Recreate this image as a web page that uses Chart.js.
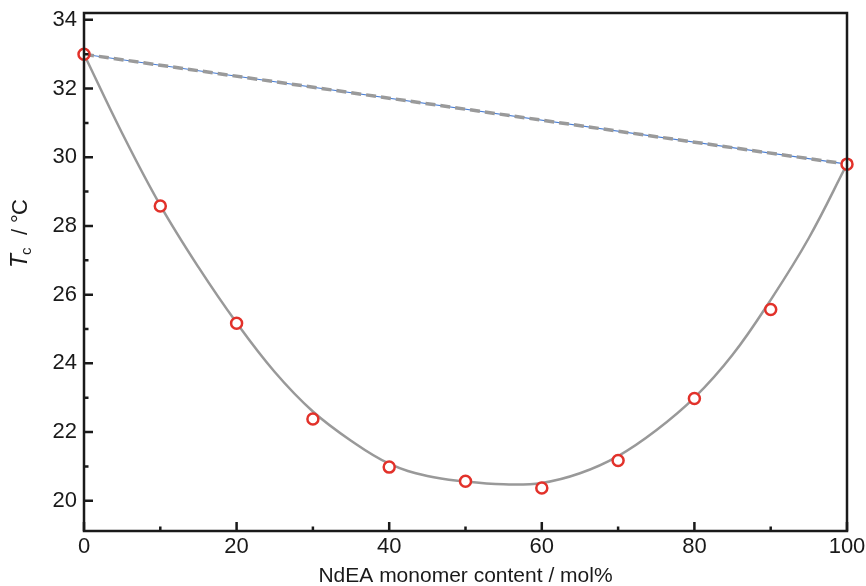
<!DOCTYPE html>
<html>
<head>
<meta charset="utf-8">
<script src="https://cdn.jsdelivr.net/npm/chart.js@4.4.1/dist/chart.umd.min.js"></script>
<style>
  html, body { margin: 0; padding: 0; background: #fff; }
  #wrap { width: 866px; height: 586px; }
</style>
</head>
<body>
<div id="wrap"><canvas id="tc"></canvas></div>
<script>
// measured points
const contentX = [0, 10, 20, 30, 40, 50, 60, 70, 80, 90, 100];
const tcValues = [33.0, 28.58, 25.17, 22.38, 20.98, 20.57, 20.37, 21.17, 22.98, 25.57, 29.8];

// fitted curve
const fitX = [0, 5, 10, 15, 20, 25, 30, 35, 40, 45, 50, 55, 60, 65, 70, 75, 80, 85, 90, 95, 100];
const fitY = [33.0, 30.7, 28.6, 26.8, 25.18, 23.75, 22.6, 21.75, 21.08, 20.72, 20.56, 20.48, 20.52, 20.8, 21.3, 22.05, 23.0, 24.25, 25.85, 27.65, 29.8];

// straight reference line between the pure polymers
const lineX = [0, 100];
const lineY = [33.0, 29.8];

const yTickValues = [20, 21, 22, 23, 24, 25, 26, 27, 28, 29, 30, 31, 32, 33, 34];
const xTickValues = [0, 10, 20, 30, 40, 50, 60, 70, 80, 90, 100];

const pts = (xs, ys) => xs.map((x, i) => ({ x: x, y: ys[i] }));
const FONT = '"Liberation Sans", Arial, sans-serif';

const frame = {
  id: 'frame',
  afterDatasetsDraw(chart) {
    const { ctx, chartArea: a, scales } = chart;
    ctx.save();
    ctx.strokeStyle = '#1a1a1a';
    ctx.lineWidth = 2.5;
    ctx.strokeRect(a.left, a.top, a.right - a.left, a.bottom - a.top);
    ctx.beginPath();
    yTickValues.forEach(v => {
      const y = scales.y.getPixelForValue(v);
      const len = v % 2 === 0 ? 9 : 4.5;
      ctx.moveTo(a.left, y);
      ctx.lineTo(a.left + len, y);
    });
    xTickValues.forEach(v => {
      const x = scales.x.getPixelForValue(v);
      const len = v % 20 === 0 ? 9 : 4.5;
      ctx.moveTo(x, a.bottom);
      ctx.lineTo(x, a.bottom - len);
    });
    ctx.stroke();

    // y title: T_c / °C
    ctx.translate(27, 268);
    ctx.rotate(-Math.PI / 2);
    ctx.fillStyle = '#1a1a1a';
    ctx.textBaseline = 'alphabetic';
    ctx.font = 'italic 23px ' + FONT;
    ctx.fillText('T', 0, 0);
    ctx.font = '15px ' + FONT;
    ctx.fillText('c', 13, 4);
    ctx.font = '22px ' + FONT;
    ctx.fillText('/', 33, 0);
    ctx.fillText('°', 45, 0);
    ctx.fillText('C', 53, 0);
    ctx.restore();
  }
};

new Chart(document.getElementById('tc'), {
  type: 'line',
  data: {
    datasets: [{
      data: pts(contentX, tcValues),
      showLine: false,
      pointStyle: 'circle',
      pointRadius: 5.5,
      pointBorderWidth: 2.5,
      pointBorderColor: '#e2312a',
      pointBackgroundColor: '#ffffff',
      clip: false
    }, {
      data: pts(lineX, lineY),
      borderColor: '#9a9a9a',
      borderWidth: 3.5,
      borderDash: [10, 5],
      pointRadius: 0,
      fill: false
    }, {
      data: pts(lineX, lineY),
      borderColor: '#4a7fd6',
      borderWidth: 1.2,
      pointRadius: 0,
      fill: false
    }, {
      data: pts(fitX, fitY),
      borderColor: '#999999',
      borderWidth: 2.5,
      pointRadius: 0,
      tension: 0.4,
      fill: false
    }]
  },
  options: {
    responsive: true,
    maintainAspectRatio: false,
    animation: false,
    layout: { padding: { top: 13, right: 19, left: 0, bottom: 0 } },
    plugins: { legend: { display: false }, tooltip: { enabled: false } },
    scales: {
      x: {
        type: 'linear',
        min: 0,
        max: 100,
        grid: { display: false, drawTicks: false, tickLength: 0 },
        border: { display: false },
        afterBuildTicks: s => { s.ticks = xTickValues.map(v => ({ value: v })); },
        afterFit: s => { s.height = 55; s.paddingLeft = 0; s.paddingRight = 0; },
        ticks: {
          autoSkip: false,
          maxRotation: 0,
          padding: 3,
          color: '#1a1a1a',
          font: { family: FONT, size: 22 },
          callback: v => (v % 20 === 0 ? v : '')
        },
        title: {
          display: true,
          text: 'NdEA monomer content / mol%',
          color: '#1a1a1a',
          padding: { top: 0, bottom: -3 },
          font: { family: FONT, size: 21 }
        }
      },
      y: {
        type: 'linear',
        min: 19.12,
        max: 34.2,
        grid: { display: false, drawTicks: false, tickLength: 0 },
        border: { display: false },
        afterBuildTicks: s => { s.ticks = yTickValues.map(v => ({ value: v })); },
        afterFit: s => { s.width = 84; s.paddingTop = 0; s.paddingBottom = 0; },
        ticks: {
          autoSkip: false,
          padding: 7,
          color: '#1a1a1a',
          font: { family: FONT, size: 22 },
          callback: v => (v % 2 === 0 ? v : '')
        }
      }
    }
  },
  plugins: [frame]
});
</script>
</body>
</html>
